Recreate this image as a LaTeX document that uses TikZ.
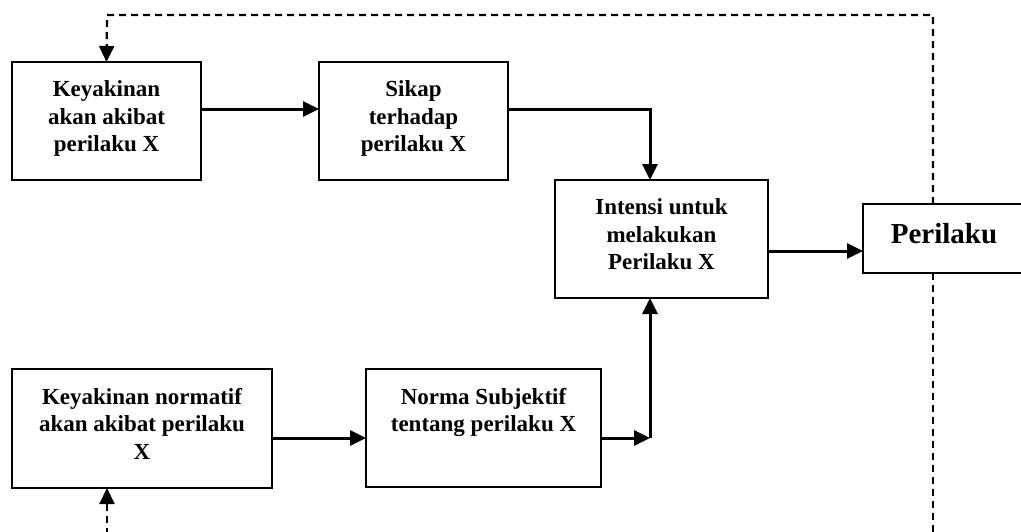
\documentclass[tikz,border=0pt]{standalone}
\usepackage{fontspec}
\setmainfont{Liberation Serif}
\usetikzlibrary{arrows.meta,calc}
\newcommand{\boxtext}[3]{\parbox[c][#2pt][t]{#1pt}{\centering\vspace*{19pt}\fontsize{23}{27.5}\selectfont\bfseries #3}}
\tikzset{
  boxnode/.style={draw=black, line width=1.8pt, inner sep=0pt, outer sep=0pt},
  arr/.style={line width=3pt, -{Triangle[length=16pt,width=15pt]}},
  dashline/.style={line width=2.2pt, dash pattern=on 7pt off 5pt},
  dasharr/.style={dashline, -{Triangle[length=16pt,width=15pt]}}
}
\begin{document}
\begin{tikzpicture}[x=1pt,y=-1pt]
\useasboundingbox (0,0) rectangle (1021,531);
\node[boxnode] (b1) at (106.5,121) {\boxtext{189}{118}{Keyakinan\\akan akibat\\perilaku X}};
\node[boxnode] (b2) at (413.5,121) {\boxtext{189}{118}{Sikap\\terhadap\\perilaku X}};
\node[boxnode] (b3) at (661.5,239) {\boxtext{213}{118}{Intensi untuk\\melakukan\\Perilaku X}};
\node[boxnode, minimum width=162pt, minimum height=69pt] (b4) at (944,238.5) {\fontsize{29}{32}\selectfont\bfseries Perilaku\rule[-10pt]{0pt}{10pt}};
\node[boxnode] (b5) at (142,428.5) {\boxtext{260}{119}{Keyakinan normatif\\akan akibat perilaku\\X}};
\node[boxnode] (b6) at (483.5,428) {\boxtext{235}{118}{Norma Subjektif\\tentang perilaku X}};
\coordinate (c2) at (650,438);
\coordinate (t2) at (107,15);
\coordinate (bot1) at (933,535);
\coordinate (bot2) at (107,535);
% solid connectors
\draw[arr] ([yshift=12pt]b1.east) -- ([yshift=12pt]b1.east -| b2.west);
\draw[arr] ([yshift=12pt]b2.east) -| ([xshift=-11.5pt]b3.north);
\draw[arr] ([yshift=-12pt]b3.east) -- ([yshift=-12pt]b3.east -| b4.west);
\draw[arr] ([yshift=-9.5pt]b5.east) -- ([yshift=-9.5pt]b5.east -| b6.west);
\draw[arr] (b6.east |- c2) -- (c2);
\draw[arr] (c2) -- (c2 |- b3.south);
% dashed feedback
\draw[dasharr] ([xshift=-11pt]b4.north) |- (t2) -- (b1.north);
\draw[dashline] ([xshift=-11pt]b4.south) -- (bot1);
\draw[dasharr] (bot2) -- (b5.south -| bot2);
\end{tikzpicture}
\end{document}
